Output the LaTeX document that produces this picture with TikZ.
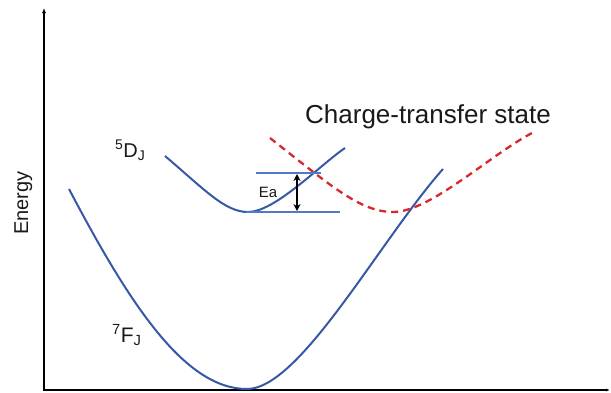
\documentclass[tikz,border=0pt]{standalone}
\usepackage{fontspec}
\setmainfont{Liberation Sans}
\usetikzlibrary{arrows.meta}
\definecolor{curveblue}{RGB}{55,88,165}
\definecolor{levelblue}{RGB}{80,122,198}
\definecolor{ctred}{RGB}{214,40,45}
\tikzset{
  axisline/.style={line width=2pt, black},
  pcurve/.style={line width=2pt, curveblue},
  levelline/.style={line width=1.8pt, levelblue},
  ctcurve/.style={line width=2.3pt, ctred, dash pattern=on 7pt off 5pt},
  lbl/.style={inner sep=0pt, text=black!90},
  eatip/.style={Stealth[length=7pt,width=7pt]},
}
\begin{document}
\begin{tikzpicture}[x=1pt,y=-1pt]
\useasboundingbox (0,0) rectangle (611,392);
% axes
\coordinate (origin) at (44,390);
\coordinate (ytop) at (44,8);
\coordinate (xend) at (610,390);
\draw[axisline,-{Latex[length=5pt,width=4pt]}] (origin) -- (ytop);
\draw[axisline,-{Latex[length=4pt,width=3pt]}] ([xshift=-1pt]origin) -- (xend);
% 7F_J ground state curve
\draw[pcurve] (69,189) .. controls (130,305) and (185,389) .. (247,389)
  .. controls (300,389) and (380,240) .. (443,169);
% 5D_J excited state curve
\draw[pcurve] (165,156) .. controls (205,190) and (225,212) .. (248,212)
  .. controls (275,212) and (320,165) .. (345,148);
% charge transfer state
\draw[ctcurve] (270,138) .. controls (330,185) and (360,212) .. (393,212)
  .. controls (430,212) and (490,155) .. (532,133);
% levels
\coordinate (lt1) at (256,173);
\coordinate (lt2) at (321,173);
\coordinate (lb1) at (246,212);
\coordinate (lb2) at (340,212);
\draw[levelline] (lt1) -- (lt2);
\draw[levelline] (lb1) -- (lb2);
\coordinate (ea1) at (297,174);
\coordinate (ea2) at (297,211);
\draw[line width=1.5pt,{Stealth[length=7pt,width=7pt]}-{Stealth[length=7pt,width=7pt]}] (ea1) -- (ea2);
% labels
\node[lbl, anchor=base, font=\fontsize{15}{18}\selectfont] (ea) at (268,197) {Ea};
\node[lbl, anchor=base, font=\fontsize{26}{30}\selectfont] (ct) at (428,123) {Charge-transfer state};
\node[lbl, anchor=base, rotate=90, font=\fontsize{20}{24}\selectfont] (energy) at (28,203) {Energy};
\node[lbl, anchor=base west, font=\fontsize{20}{24}\selectfont] (fived) at (115,157) {\textsuperscript{5}D\textsubscript{J}};
\node[lbl, anchor=base west, font=\fontsize{21}{24}\selectfont] (sevenf) at (112,342) {\textsuperscript{7}F\textsubscript{J}};
\end{tikzpicture}
\end{document}
